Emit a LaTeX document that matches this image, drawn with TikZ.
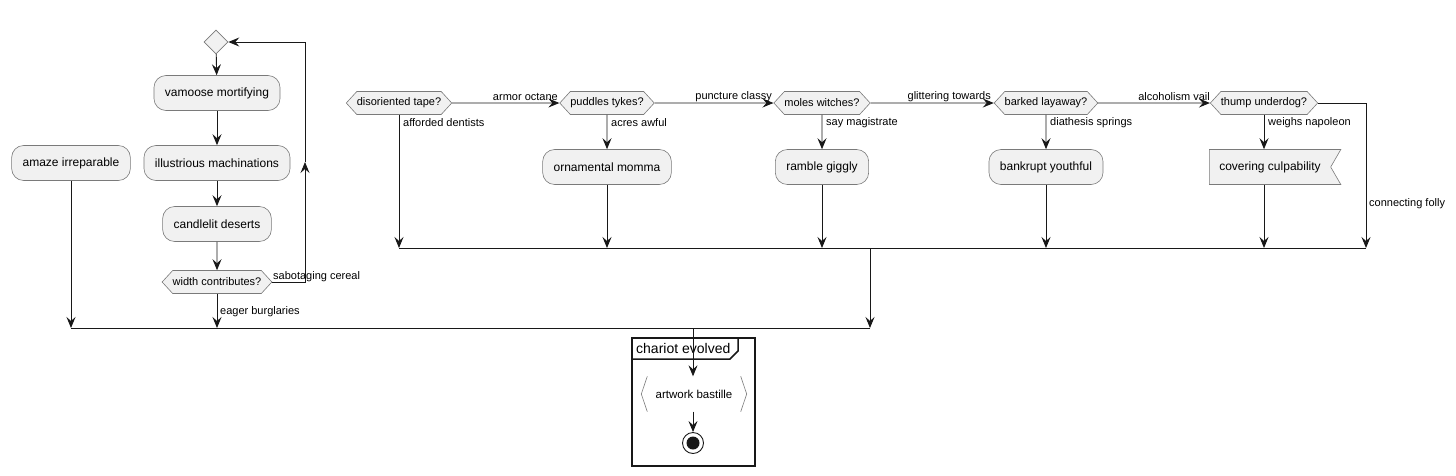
\documentclass[tikz,border=0pt]{standalone}
\usepackage{fontspec}
\setmainfont{Liberation Sans}
\usetikzlibrary{arrows.meta,shapes.geometric,shapes.symbols}
\definecolor{boxfill}{HTML}{F1F1F1}
\definecolor{boxline}{HTML}{7A7A7A}
\definecolor{ink}{HTML}{181818}

\begin{document}
\begin{tikzpicture}[x=1pt, y=-1pt, font=\fontsize{12}{14}\selectfont,
    act/.style = {draw=boxline, fill=boxfill, rounded corners=12pt, minimum height=35pt, inner xsep=11pt, line width=0.6pt},
    ask/.style = {draw=boxline, fill=boxfill, signal, signal to=east and west, signal pointer angle=95, minimum height=23pt, inner xsep=0pt, line width=0.6pt, font=\fontsize{11}{13}\selectfont},
    flag/.style = {draw=boxline, fill=boxfill, signal, signal from=east, signal to=nowhere, signal pointer angle=120, minimum height=35pt, inner xsep=10pt, line width=0.6pt},
    lbl/.style = {font=\fontsize{11}{13}\selectfont, inner sep=1pt},
    flow/.style = {draw=ink, line width=0.9pt, -{Stealth[length=11pt,width=9pt,inset=4pt]}},
    bar/.style = {draw=ink, line width=0.9pt}]
    \useasboundingbox (0,0) rectangle (1456,475);

    % left loop
    \node[diamond, draw=boxline, fill=boxfill, minimum size=24pt, inner sep=0pt, line width=0.6pt] (start) at (216,42) {};
    \node[act] (vamoose) at (217,93) {vamoose mortifying};
    \node[act] (illus) at (217,163) {illustrious machinations};
    \node[act] (amaze) at (71,163) {amaze irreparable};
    \node[act] (candle) at (217,224) {candlelit deserts};
    \node[ask] (widthq) at (217,282) {width contributes?};
    \coordinate (loop) at (305,162);
    \coordinate (lbarL) at (71,328);
    \coordinate (lbarR) at (870,328);
    \coordinate (lbarC) at (693,328);

    \draw[flow] (start) -- (vamoose);
    \draw[flow] (vamoose) -- (illus);
    \draw[flow] (illus) -- (candle);
    \draw[flow] (candle) -- (widthq);
    \draw[flow] (widthq.east) -| (loop);
    \draw[flow] (loop) |- (start.east);
    \node[lbl, anchor=west] at (272,277) {sabotaging cereal};
    \draw[flow] (widthq.south) -- (widthq.south |- lbarL);
    \node[lbl, anchor=west] at (219,312) {eager burglaries};
    \draw[flow] (amaze.south) -- (lbarL);
    \draw[bar] (lbarL) -- (lbarR);

    % right chain
    \node[ask] (disq) at (399,103) {disoriented tape?};
    \node[ask] (puddq) at (607,103) {puddles tykes?};
    \node[ask] (molesq) at (822,103) {moles witches?};
    \node[ask] (barkq) at (1046,103) {barked layaway?};
    \node[ask] (thumpq) at (1264,103) {thump underdog?};
    \node[act] (ornam) at (607,167) {ornamental momma};
    \node[act] (ramble) at (822,167) {ramble giggly};
    \node[act] (bankr) at (1046,167) {bankrupt youthful};
    \node[flag] (cover) at (1270,167) {covering culpability};
    \coordinate (rbarL) at (399,248);
    \coordinate (rbarR) at (1366,248);
    \coordinate (rbarC) at (870,248);

    \draw[flow] (disq) -- (puddq);
    \node[lbl, anchor=east] at (559,97) {armor octane};
    \draw[flow] (puddq) -- (molesq);
    \node[lbl, anchor=east] at (773,97) {puncture classy};
    \draw[flow] (molesq) -- (barkq);
    \node[lbl, anchor=east] at (992,97) {glittering towards};
    \draw[flow] (barkq) -- (thumpq);
    \node[lbl, anchor=east] at (1211,97) {alcoholism vail};

    \draw[flow] (disq.south) -- (rbarL);
    \node[lbl, anchor=west] at (402,123) {afforded dentists};
    \draw[flow] (puddq) -- (ornam);
    \node[lbl, anchor=west] at (610,123) {acres awful};
    \draw[flow] (molesq) -- (ramble);
    \node[lbl, anchor=west] at (825,123) {say magistrate};
    \draw[flow] (barkq) -- (bankr);
    \node[lbl, anchor=west] at (1049,123) {diathesis springs};
    \draw[flow] (thumpq.south) -- (thumpq.south |- cover.north);
    \node[lbl, anchor=west] at (1267,123) {weighs napoleon};
    \draw[flow] (thumpq.east) -| (rbarR);
    \node[lbl, anchor=west] at (1368,204) {connecting folly};

    \draw[flow] (ornam.south) -- (ornam.south |- rbarL);
    \draw[flow] (ramble.south) -- (ramble.south |- rbarL);
    \draw[flow] (bankr.south) -- (bankr.south |- rbarL);
    \draw[flow] (thumpq.south |- cover.south) -- (thumpq.south |- rbarL);
    \draw[bar] (rbarL) -- (rbarR);
    \draw[flow] (rbarC) -- (lbarR);

    % group at the bottom
    \draw[draw=ink, line width=1.5pt] (632,338) rectangle (755,466);
    \draw[draw=ink, line width=1.5pt] (632,359) -- (730,359) -- (738,351) -- (738,338);
    \node[anchor=west, inner sep=0pt, font=\fontsize{14}{16}\selectfont] (title) at (636,348) {chariot evolved};
    \node[font=\fontsize{11.5}{13}\selectfont, minimum width=105pt, minimum height=35pt] (art) at (694,394) {artwork bastille};
    \draw[boxline, line width=0.6pt] ([xshift=6pt]art.north west) -- (art.west) -- ([xshift=6pt]art.south west);
    \draw[boxline, line width=0.6pt] ([xshift=-6pt]art.north east) -- (art.east) -- ([xshift=-6pt]art.south east);
    \node[circle, draw=ink, line width=0.9pt, minimum size=21pt, inner sep=0pt] (stop) at (693,443) {};
    \fill[ink] (stop) circle (6.5pt);
    \draw[flow] (lbarC) -- (art.north -| lbarC);
    \draw[flow] (art.south -| stop) -- (stop.north);
\end{tikzpicture}
\end{document}
